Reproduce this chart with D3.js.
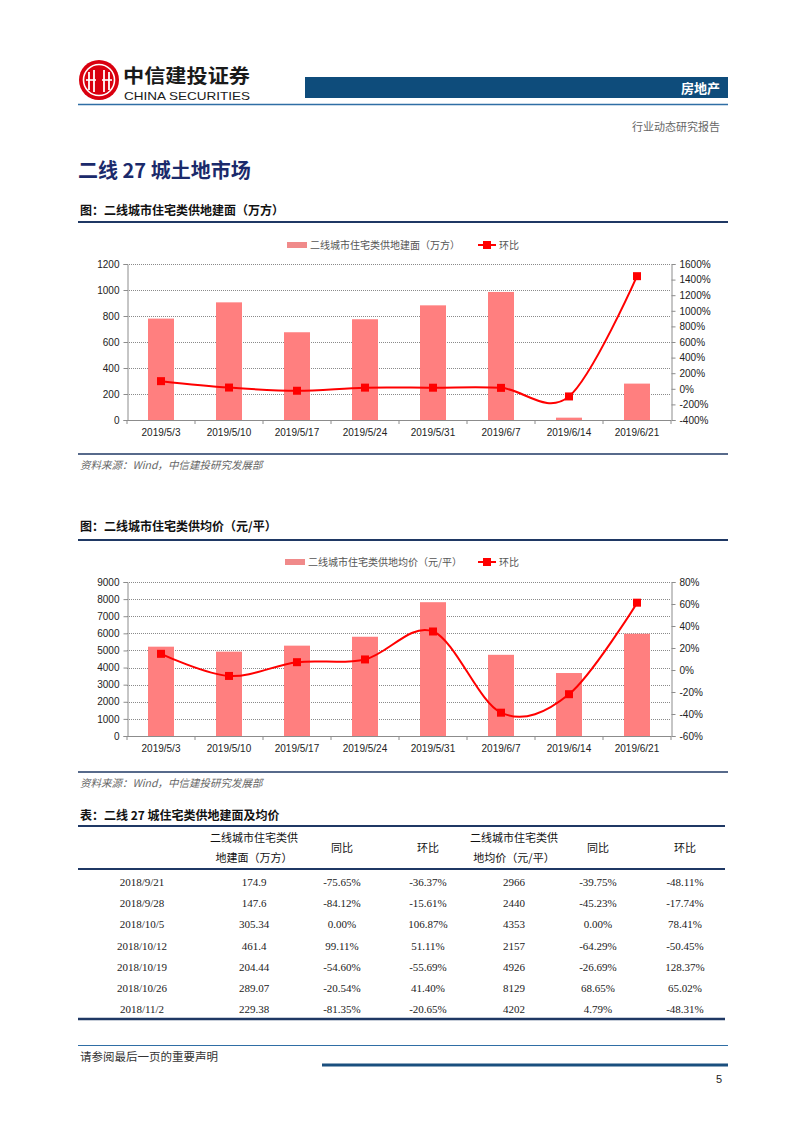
<!DOCTYPE html>
<html><head><meta charset="utf-8">
<script src="https://cdn.jsdelivr.net/npm/d3@7"></script>
<style>body{margin:0;background:#fff}svg{display:block}</style>
</head><body>
<script>
// ---------- data ----------
const dates = ["2019/5/3","2019/5/10","2019/5/17","2019/5/24","2019/5/31","2019/6/7","2019/6/14","2019/6/21"];
const areaValues = [780, 905, 675, 775, 882, 985, 18, 280];
const areaHb = [98, 16, -25, 15, 14, 12, -98, 1444];
const areaTicks = [0, 200, 400, 600, 800, 1000, 1200];
const areaPctTicks = [-400, -200, 0, 200, 400, 600, 800, 1000, 1200, 1400, 1600];
const priceValues = [5220, 4930, 5280, 5800, 7820, 4745, 3680, 5975];
const priceHb = [14.7, -5.4, 7.1, 9.6, 35.0, -38.8, -22.0, 61.2];
const priceTicks = [0, 1000, 2000, 3000, 4000, 5000, 6000, 7000, 8000, 9000];
const pricePctTicks = [-60, -40, -20, 0, 20, 40, 60, 80];

const tableHeader1 = ["", "二线城市住宅类供", "同比", "环比", "二线城市住宅类供", "同比", "环比"];
const tableHeader2 = ["", "地建面（万方）", "", "", "地均价（元/平）", "", ""];
const tableDates = ["2018/9/21","2018/9/28","2018/10/5","2018/10/12","2018/10/19","2018/10/26","2018/11/2"];
const tableArea = ["174.9","147.6","305.34","461.4","204.44","289.07","229.38"];
const tableAreaYoy = ["-75.65%","-84.12%","0.00%","99.11%","-54.60%","-20.54%","-81.35%"];
const tableAreaHb = ["-36.37%","-15.61%","106.87%","51.11%","-55.69%","41.40%","-20.65%"];
const tablePrice = ["2966","2440","4353","2157","4926","8129","4202"];
const tablePriceYoy = ["-39.75%","-45.23%","0.00%","-64.29%","-26.69%","68.65%","4.79%"];
const tablePriceHb = ["-48.11%","-17.74%","78.41%","-50.45%","128.37%","65.02%","-48.31%"];

// ---------- setup ----------
const W = 802, H = 1133;
const CJK = "'Noto Sans CJK SC', 'Noto Sans', sans-serif";
const SANS = "'Liberation Sans', Arial, sans-serif";
const SERIF = "'Liberation Serif', 'Times New Roman', serif";
const NAVY = "#1F3864";
const svg = d3.select("body").append("svg").attr("width", W).attr("height", H);

// ---------- header ----------
const logo = svg.append("g");
logo.append("circle").attr("cx", 99).attr("cy", 80).attr("r", 20).attr("fill", "#D9000F");
logo.append("circle").attr("cx", 99).attr("cy", 80).attr("r", 15.5).attr("fill", "none").attr("stroke", "#fff").attr("stroke-width", 1.6);
[[89,72,90],[94,70,92],[104,70,92],[109,72,90]].forEach(([x,y1,y2])=>{
  logo.append("line").attr("x1",x).attr("x2",x).attr("y1",y1).attr("y2",y2).attr("stroke","#fff").attr("stroke-width",1.8);
});
logo.append("line").attr("x1",86).attr("x2",112).attr("y1",80).attr("y2",80).attr("stroke","#fff").attr("stroke-width",1.6);
logo.append("rect").attr("x",96).attr("y",74).attr("width",6).attr("height",12).attr("fill","#D9000F");

svg.append("text").attr("x", 123).attr("y", 83).attr("font-family", CJK).attr("font-weight", 700)
  .attr("font-size", 19).attr("fill", "#1a1a1a").attr("textLength", 127).attr("lengthAdjust","spacingAndGlyphs").text("中信建投证券");
svg.append("text").attr("x", 124).attr("y", 100).attr("font-family", SANS).attr("font-weight", 400)
  .attr("font-size", 11.5).attr("fill", "#1a1a1a").attr("textLength", 126).attr("lengthAdjust","spacingAndGlyphs").text("CHINA SECURITIES");

svg.append("rect").attr("x", 305).attr("y", 77).attr("width", 423).attr("height", 21).attr("fill", "#0E4C7B");
svg.append("text").attr("x", 720).attr("y", 92.5).attr("text-anchor", "end").attr("font-family", CJK)
  .attr("font-weight", 700).attr("font-size", 13).attr("fill", "#fff").text("房地产");
svg.append("line").attr("x1", 78).attr("x2", 728).attr("y1", 104.5).attr("y2", 104.5).attr("stroke", "#2F6EA5").attr("stroke-width", 1.5);
svg.append("text").attr("x", 720).attr("y", 131).attr("text-anchor", "end").attr("font-family", CJK)
  .attr("font-size", 11).attr("fill", "#666").text("行业动态研究报告");

svg.append("text").attr("x", 78).attr("y", 178).attr("font-family", CJK).attr("font-weight", 700)
  .attr("font-size", 20).attr("fill", "#1B2A6B").text("二线 27 城土地市场");

// ---------- helpers ----------
function sectionTitle(y, text, lineY) {
  svg.append("text").attr("x", 80).attr("y", y).attr("font-family", CJK).attr("font-weight", 700)
    .attr("font-size", 12).attr("fill", "#111").text(text);
  svg.append("line").attr("x1", 78).attr("x2", 728).attr("y1", lineY).attr("y2", lineY)
    .attr("stroke", NAVY).attr("stroke-width", 2);
}
function source(lineY, textY) {
  svg.append("line").attr("x1", 78).attr("x2", 728).attr("y1", lineY).attr("y2", lineY)
    .attr("stroke", NAVY).attr("stroke-width", 1.5);
  svg.append("text").attr("x", 80).attr("y", textY).attr("font-family", CJK).attr("font-style", "italic")
    .attr("font-size", 10.5).attr("fill", "#666").text("资料来源：Wind，中信建投研究发展部");
}

function combo(cfg) {
  const g = svg.append("g");
  const x = d3.scaleBand().domain(dates).range([127, 671]).paddingInner(0.6).paddingOuter(0.3);
  const xc = d3.scalePoint().domain(dates).range([127, 671]).padding(0.5);
  const yL = d3.scaleLinear().domain(cfg.leftDomain).range([cfg.bottom, cfg.top]);
  const yR = d3.scaleLinear().domain(cfg.rightDomain).range([cfg.bottom, cfg.top]);

  // gridlines
  g.append("g").selectAll("line").data(cfg.leftTicks.filter(d => d !== cfg.leftDomain[0])).join("line")
    .attr("x1", 127).attr("x2", 671).attr("y1", d => Math.round(yL(d)) + 0.5).attr("y2", d => Math.round(yL(d)) + 0.5)
    .attr("stroke", "#8a8a8a").attr("stroke-width", 1).attr("stroke-dasharray", "1,1");

  // bars
  g.append("g").selectAll("rect").data(cfg.bars).join("rect")
    .attr("x", (d, i) => xc(dates[i]) - 13).attr("width", 26)
    .attr("y", d => yL(d)).attr("height", d => cfg.bottom - yL(d)).attr("fill", "#FF7F7F");

  // axes
  const axL = d3.axisLeft(yL).tickValues(cfg.leftTicks).tickSize(4).tickPadding(4).tickFormat(d3.format("d"));
  const gl = g.append("g").attr("transform", "translate(127.5,0)").call(axL);
  const axR = d3.axisRight(yR).tickValues(cfg.rightTicks).tickSize(4).tickPadding(4).tickFormat(d => d + "%");
  const gr = g.append("g").attr("transform", "translate(671.5,0)").call(axR);
  const axB = d3.axisBottom(x).tickSize(0).tickPadding(8);
  const gb = g.append("g").attr("transform", `translate(0,${cfg.bottom + 0.5})`).call(axB);
  [gl, gr, gb].forEach(a => {
    a.select(".domain").attr("stroke", "#8c8c8c");
    a.selectAll(".tick line").attr("stroke", "#8c8c8c");
    a.selectAll("text").attr("font-family", SANS).attr("font-size", 10).attr("fill", "#222");
  });
  gb.select(".domain").attr("d", `M127,0H671`);
  // category separator ticks on bottom axis
  const seps = d3.range(dates.length + 1).map(i => 127 + i * (544 / dates.length));
  g.append("g").selectAll("line").data(seps).join("line")
    .attr("x1", d => d).attr("x2", d => d).attr("y1", cfg.bottom).attr("y2", cfg.bottom + 4)
    .attr("stroke", "#8c8c8c");

  // line
  const line = d3.line().x((d, i) => xc(dates[i])).y(d => yR(d)).curve(d3.curveCardinal.tension(0));
  g.append("path").datum(cfg.line).attr("d", line).attr("fill", "none").attr("stroke", "#FF0000").attr("stroke-width", 2);
  g.append("g").selectAll("rect").data(cfg.line).join("rect")
    .attr("x", (d, i) => xc(dates[i]) - 4).attr("y", d => yR(d) - 4).attr("width", 8).attr("height", 8).attr("fill", "#FF0000");

  // legend
  const ly = cfg.legendY;
  g.append("rect").attr("x", cfg.legendX).attr("y", ly - 3).attr("width", 20).attr("height", 6).attr("fill", "#F08A8A");
  g.append("text").attr("x", cfg.legendX + 23).attr("y", ly + 3.5).attr("font-family", CJK)
    .attr("font-size", 10).attr("fill", "#555").text(cfg.legendText);
  const lx2 = 478;
  g.append("line").attr("x1", lx2).attr("x2", lx2 + 18).attr("y1", ly).attr("y2", ly).attr("stroke", "#FF0000").attr("stroke-width", 2);
  g.append("rect").attr("x", lx2 + 5).attr("y", ly - 4).attr("width", 8).attr("height", 8).attr("fill", "#FF0000");
  g.append("text").attr("x", lx2 + 21).attr("y", ly + 3.5).attr("font-family", CJK)
    .attr("font-size", 10).attr("fill", "#555").text("环比");
}

// ---------- chart 1 ----------
sectionTitle(215, "图：二线城市住宅类供地建面（万方）", 222);
combo({
  top: 264, bottom: 420, bars: areaValues, line: areaHb,
  leftDomain: [0, 1200], leftTicks: areaTicks, rightDomain: [-400, 1600], rightTicks: areaPctTicks,
  legendY: 245, legendX: 287, legendText: "二线城市住宅类供地建面（万方）"
});
source(454, 469);

// ---------- chart 2 ----------
sectionTitle(531, "图：二线城市住宅类供均价（元/平）", 540);
combo({
  top: 582, bottom: 736, bars: priceValues, line: priceHb,
  leftDomain: [0, 9000], leftTicks: priceTicks, rightDomain: [-60, 80], rightTicks: pricePctTicks,
  legendY: 562, legendX: 285, legendText: "二线城市住宅类供地均价（元/平）"
});
source(772, 787);

// ---------- table ----------
svg.append("text").attr("x", 80).attr("y", 820).attr("font-family", CJK).attr("font-weight", 700)
  .attr("font-size", 12).attr("fill", "#111").text("表：二线 27 城住宅类供地建面及均价");
svg.append("line").attr("x1", 78).attr("x2", 725).attr("y1", 826).attr("y2", 826).attr("stroke", NAVY).attr("stroke-width", 2);
const colX = [142, 254, 342, 428, 514, 598, 685];
const hdr = svg.append("g").attr("font-family", CJK).attr("font-size", 11).attr("fill", "#111").attr("text-anchor", "middle");
tableHeader1.forEach((t, i) => {
  if (!t) return;
  const two = tableHeader2[i] !== "";
  hdr.append("text").attr("x", colX[i]).attr("y", two ? 842 : 852).text(t);
  if (two) hdr.append("text").attr("x", colX[i]).attr("y", 862).text(tableHeader2[i]);
});
svg.append("line").attr("x1", 78).attr("x2", 725).attr("y1", 869).attr("y2", 869).attr("stroke", NAVY).attr("stroke-width", 2);
const cols = [tableDates, tableArea, tableAreaYoy, tableAreaHb, tablePrice, tablePriceYoy, tablePriceHb];
const rowsG = svg.append("g").attr("font-family", SERIF).attr("font-size", 11).attr("fill", "#222").attr("text-anchor", "middle");
tableDates.forEach((d, r) => {
  cols.forEach((c, i) => {
    rowsG.append("text").attr("x", colX[i]).attr("y", 886 + r * 21.2).text(c[r]);
  });
});
svg.append("line").attr("x1", 78).attr("x2", 725).attr("y1", 1019).attr("y2", 1019).attr("stroke", NAVY).attr("stroke-width", 2.5);

// ---------- footer ----------
svg.append("line").attr("x1", 78).attr("x2", 728).attr("y1", 1045.5).attr("y2", 1045.5).attr("stroke", "#2F6EA5").attr("stroke-width", 1);
svg.append("text").attr("x", 80).attr("y", 1061).attr("font-family", CJK).attr("font-size", 11.5).attr("fill", "#333").text("请参阅最后一页的重要声明");
svg.append("line").attr("x1", 322).attr("x2", 728).attr("y1", 1065).attr("y2", 1065).attr("stroke", "#1A4F7E").attr("stroke-width", 3);
svg.append("text").attr("x", 722).attr("y", 1083).attr("text-anchor", "end").attr("font-family", SANS).attr("font-size", 11).attr("fill", "#222").text("5");
</script>
</body></html>
